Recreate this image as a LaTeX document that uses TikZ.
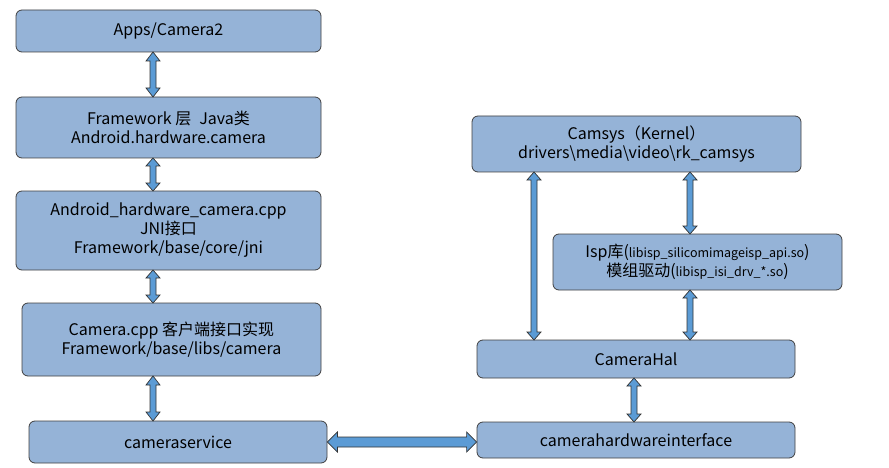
\documentclass[tikz,border=0pt]{standalone}
\usepackage{fontspec}
\setmainfont{Noto Sans CJK SC}
\usetikzlibrary{calc}
\definecolor{boxfill}{HTML}{95B3D7}
\definecolor{arrfill}{HTML}{5B9BD5}
\newcommand\blkarrow[5]{%
\filldraw[arr] (#1) -- ($($(#1)!#5!(#2)$)!#4!90:(#2)$) -- ($($(#1)!#5!(#2)$)!#3!90:(#2)$)
 -- ($($(#2)!#5!(#1)$)!#3!-90:(#1)$) -- ($($(#2)!#5!(#1)$)!#4!-90:(#1)$) -- (#2)
 -- ($($(#2)!#5!(#1)$)!#4!90:(#1)$) -- ($($(#2)!#5!(#1)$)!#3!90:(#1)$)
 -- ($($(#1)!#5!(#2)$)!#3!-90:(#2)$) -- ($($(#1)!#5!(#2)$)!#4!-90:(#2)$) -- cycle;}
\begin{document}
\begin{tikzpicture}[x=1pt,y=-1pt,
 box/.style={draw=black!75,fill=boxfill,rounded corners=6pt,line width=0.8pt,align=center,font=\fontsize{16}{19}\selectfont,inner sep=0pt},
 arr/.style={fill=arrfill,draw=black!80,line width=0.7pt,line join=miter}]
\useasboundingbox (0,0) rectangle (889,468);
\def\bx#1#2#3#4#5#6{\node[box,minimum width=#4-#2,minimum height=#5-#3] (#1) at ({(#2+#4)/2},{(#3+#5)/2}) {#6};}
\bx{apps}{16}{10}{321}{52}{Apps/Camera2}
\bx{fw}{16}{97}{321}{158}{Framework 层\enspace Java类\\Android.hardware.camera}
\bx{jni}{16}{191}{321}{270}{Android\_hardware\_camera.cpp\\JNI接口\\Framework/base/core/jni}
\bx{cpp}{22}{303}{321}{376}{Camera.cpp 客户端接口实现\\Framework/base/libs/camera}
\bx{svc}{29}{421}{327}{463}{cameraservice}
\bx{camsys}{472}{116}{801}{172}{Camsys（Kernel）\\drivers\textbackslash media\textbackslash video\textbackslash rk\_camsys}
\bx{isp}{553}{234}{842}{290}{Isp库({\fontsize{12.5}{15}\selectfont libisp\_silicomimageisp\_api.so})\\模组驱动({\fontsize{12.5}{15}\selectfont libisp\_isi\_drv\_*.so})}
\bx{hal}{477}{340}{795}{378}{CameraHal}
\bx{hwi}{477}{422}{795}{458}{camerahardwareinterface}
\coordinate (a1) at (153,52); \coordinate (a2) at (153,97);
\coordinate (b1) at (153,158); \coordinate (b2) at (153,191);
\coordinate (c1) at (153,270); \coordinate (c2) at (153,303);
\coordinate (d1) at (153,376); \coordinate (d2) at (153,421);
\coordinate (e1) at (svc.east); \coordinate (e2) at (hwi.west|-svc.east);
\coordinate (f1) at (534,172); \coordinate (f2) at (534,340);
\coordinate (g1) at (690,172); \coordinate (g2) at (690,234);
\coordinate (h1) at (690,290); \coordinate (h2) at (690,340);
\coordinate (i1) at (634,378); \coordinate (i2) at (634,422);
\blkarrow{a1}{a2}{3pt}{7pt}{9pt}
\blkarrow{b1}{b2}{3pt}{7pt}{8pt}
\blkarrow{c1}{c2}{3pt}{7pt}{8pt}
\blkarrow{d1}{d2}{3pt}{7pt}{9pt}
\blkarrow{e1}{e2}{5pt}{10pt}{10pt}
\blkarrow{f1}{f2}{3pt}{7pt}{8pt}
\blkarrow{g1}{g2}{3pt}{7pt}{8pt}
\blkarrow{h1}{h2}{3pt}{7pt}{8pt}
\blkarrow{i1}{i2}{3pt}{7pt}{8pt}
\end{tikzpicture}
\end{document}
